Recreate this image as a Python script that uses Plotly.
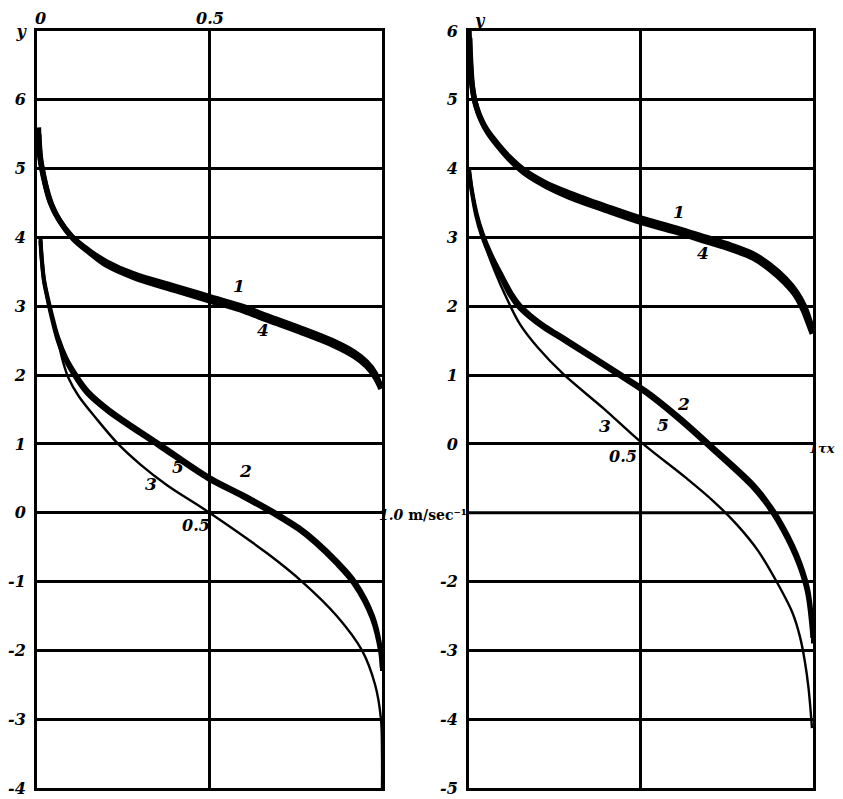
import plotly.graph_objects as go

# ---------------- data ----------------
# Left panel
L1_x = [0.004, 0.008, 0.014, 0.025, 0.038, 0.061, 0.1, 0.148, 0.2, 0.28, 0.4, 0.5, 0.6, 0.667, 0.76, 0.86, 0.92, 0.955, 0.98, 0.995]
L1_y = [5.6, 5.2, 5.0, 4.75, 4.52, 4.28, 4.02, 3.82, 3.65, 3.47, 3.29, 3.14, 2.99, 2.86, 2.69, 2.49, 2.33, 2.19, 2.03, 1.85]
L4_x = [0.005, 0.01, 0.017, 0.028, 0.042, 0.066, 0.105, 0.152, 0.2, 0.28, 0.4, 0.5, 0.6, 0.667, 0.76, 0.86, 0.92, 0.955, 0.98, 0.997]
L4_y = [5.5, 5.15, 4.95, 4.7, 4.48, 4.24, 3.98, 3.78, 3.6, 3.42, 3.23, 3.08, 2.93, 2.8, 2.63, 2.43, 2.27, 2.13, 1.97, 1.8]

L2_x = [0.01, 0.013, 0.02, 0.03, 0.042, 0.061, 0.085, 0.117, 0.15, 0.21, 0.357, 0.5, 0.6, 0.7, 0.76, 0.81, 0.87, 0.922, 0.974, 0.997, 1.0]
L2_y = [4.0, 3.75, 3.4, 3.15, 2.9, 2.55, 2.25, 1.98, 1.76, 1.5, 1.0, 0.52, 0.26, -0.02, -0.21, -0.41, -0.7, -1.0, -1.5, -2.0, -2.3]
L5_x = [0.01, 0.013, 0.02, 0.03, 0.041, 0.059, 0.082, 0.113, 0.145, 0.205, 0.352, 0.495, 0.595, 0.695, 0.755, 0.805, 0.865, 0.917, 0.97, 0.995, 0.999]
L5_y = [3.95, 3.72, 3.37, 3.12, 2.87, 2.52, 2.22, 1.95, 1.73, 1.47, 0.97, 0.49, 0.23, -0.05, -0.24, -0.44, -0.73, -1.03, -1.53, -2.03, -2.25]

L3_x = [0.01, 0.013, 0.02, 0.03, 0.042, 0.061, 0.075, 0.092, 0.12, 0.17, 0.235, 0.3, 0.377, 0.5, 0.667, 0.768, 0.869, 0.942, 0.98, 0.997, 1.0, 1.0]
L3_y = [4.0, 3.75, 3.4, 3.15, 2.9, 2.5, 2.2, 1.95, 1.7, 1.38, 1.0, 0.7, 0.4, 0.0, -0.59, -1.0, -1.5, -2.0, -2.5, -3.0, -3.5, -4.0]

# Right panel
R1_x = [0.0, 0.003, 0.008, 0.016, 0.03, 0.05, 0.08, 0.115, 0.16, 0.22, 0.29, 0.4, 0.5, 0.6, 0.69, 0.76, 0.826, 0.875, 0.92, 0.953, 0.975, 0.99, 1.0]
R1_y = [6.0, 5.6, 5.25, 5.0, 4.78, 4.58, 4.38, 4.18, 3.98, 3.8, 3.65, 3.45, 3.28, 3.14, 3.0, 2.89, 2.76, 2.6, 2.4, 2.2, 2.0, 1.8, 1.64]
R4_x = [0.002, 0.005, 0.01, 0.019, 0.034, 0.055, 0.085, 0.12, 0.165, 0.225, 0.29, 0.4, 0.5, 0.6, 0.69, 0.76, 0.826, 0.873, 0.918, 0.95, 0.971, 0.986, 0.998]
R4_y = [5.9, 5.52, 5.18, 4.94, 4.72, 4.52, 4.32, 4.12, 3.92, 3.74, 3.59, 3.39, 3.22, 3.08, 2.94, 2.83, 2.7, 2.54, 2.34, 2.15, 1.95, 1.76, 1.6]

R2_x = [0.0, 0.008, 0.022, 0.04, 0.065, 0.1, 0.125, 0.148, 0.18, 0.22, 0.29, 0.447, 0.517, 0.61, 0.7, 0.826, 0.865, 0.9, 0.953, 0.985, 0.998, 1.0]
R2_y = [4.0, 3.7, 3.35, 3.05, 2.75, 2.41, 2.18, 2.02, 1.87, 1.72, 1.5, 1.0, 0.77, 0.4, 0.0, -0.58, -0.82, -1.08, -1.6, -2.09, -2.6, -2.9]
R5_x = [0.0, 0.008, 0.021, 0.038, 0.062, 0.096, 0.12, 0.143, 0.175, 0.215, 0.285, 0.442, 0.512, 0.605, 0.695, 0.82, 0.86, 0.895, 0.948, 0.981, 0.995, 0.998]
R5_y = [3.96, 3.67, 3.32, 3.02, 2.72, 2.38, 2.15, 1.99, 1.84, 1.69, 1.47, 0.97, 0.74, 0.37, -0.03, -0.61, -0.85, -1.11, -1.63, -2.12, -2.63, -2.82]

R3_x = [0.0, 0.008, 0.022, 0.04, 0.06, 0.08, 0.1, 0.148, 0.2, 0.273, 0.39, 0.506, 0.63, 0.71, 0.78, 0.84, 0.904, 0.94, 0.962, 0.976, 0.987, 0.997]
R3_y = [4.0, 3.7, 3.35, 3.0, 2.7, 2.45, 2.22, 1.74, 1.4, 1.02, 0.52, 0.0, -0.49, -0.83, -1.18, -1.55, -2.09, -2.45, -2.8, -3.15, -3.55, -4.13]

# curve labels: (text, x, y)
L_labels = [("1", 0.585, 3.3), ("4", 0.655, 2.65), ("3", 0.33, 0.42), ("5", 0.41, 0.66), ("2", 0.605, 0.6)]
R_labels = [("1", 0.61, 3.37), ("4", 0.68, 2.78), ("3", 0.395, 0.26), ("5", 0.565, 0.28), ("2", 0.625, 0.58)]

L_yticks = [-4, -3, -2, -1, 0, 1, 2, 3, 4, 5, 6, 7]
L_yticktext = ["-4", "-3", "-2", "-1", "0", "1", "2", "3", "4", "5", "6", "y"]
R_yticks = [-5, -4, -3, -2, 0, 1, 2, 3, 4, 5, 6]
R_yticktext = ["-5", "-4", "-3", "-2", "0", "1", "2", "3", "4", "5", "6"]

# ---------------- figure ----------------
fig = go.Figure()
BLACK = "black"

def add(x, y, w, xa, ya):
    fig.add_trace(go.Scatter(x=x, y=y, mode="lines",
                             line=dict(color=BLACK, width=w, shape="spline", smoothing=1.0),
                             xaxis=xa, yaxis=ya, showlegend=False, hoverinfo="skip"))

add(L1_x, L1_y, 5.5, "x", "y")
add(L4_x, L4_y, 5.5, "x", "y")
add(L2_x, L2_y, 4.0, "x", "y")
add(L5_x, L5_y, 4.0, "x", "y")
add(L3_x, L3_y, 2.4, "x", "y")

add(R1_x, R1_y, 5.5, "x2", "y2")
add(R4_x, R4_y, 5.5, "x2", "y2")
add(R2_x, R2_y, 4.0, "x2", "y2")
add(R5_x, R5_y, 4.0, "x2", "y2")
add(R3_x, R3_y, 2.4, "x2", "y2")

lab_font = dict(family="DejaVu Serif", size=17, color=BLACK, weight="bold", style="italic")
tick_font = dict(family="DejaVu Serif", size=16, color=BLACK, weight="bold", style="italic")

xcommon = dict(range=[0, 1], tickvals=[0.5], showticklabels=False, showgrid=True, gridcolor=BLACK, gridwidth=3,
               zeroline=False, showline=True, linecolor=BLACK, linewidth=3, mirror=True, ticks="",
               automargin=False)
ycommon = dict(showgrid=True, gridcolor=BLACK, gridwidth=3, zeroline=False, showline=True, linecolor=BLACK,
               linewidth=3, mirror=True, ticks="", tickfont=tick_font, ticklabelstandoff=5, automargin=False)

# the page body has an 8px margin, so the figure is sized to fit the 843x799 window
fig.update_layout(
    width=835, height=791,
    margin=dict(l=29, r=30, t=23, b=11, autoexpand=False),
    paper_bgcolor="white", plot_bgcolor="white",
    xaxis=dict(domain=[0, 0.4446], anchor="y", **xcommon),
    yaxis=dict(domain=[0, 1], anchor="x", range=[-4, 7], tickvals=L_yticks, ticktext=L_yticktext, **ycommon),
    xaxis2=dict(domain=[0.5567, 1], anchor="y2", **xcommon),
    yaxis2=dict(domain=[0, 1], anchor="x2", range=[-5, 6], tickvals=R_yticks, ticktext=R_yticktext, **ycommon),
)

# right panel: horizontal rule at -1 (no tick label there, the unit text sits in its place)
fig.add_shape(type="line", xref="x2", yref="y2", x0=0, x1=1, y0=-1, y1=-1, line=dict(color=BLACK, width=3),
              layer="below")

ann = []
for t, x, y in L_labels:
    ann.append(dict(text=t, x=x, y=y, xref="x", yref="y", showarrow=False, font=lab_font))
for t, x, y in R_labels:
    ann.append(dict(text=t, x=x, y=y, xref="x2", yref="y2", showarrow=False, font=lab_font))

# axis annotations
ann += [
    dict(text="0", x=0.01, y=7, xref="x", yref="y", yanchor="bottom", yshift=1, showarrow=False, font=tick_font),
    dict(text="0.5", x=0.5, y=7, xref="x", yref="y", yanchor="bottom", yshift=1, showarrow=False, font=tick_font),
    dict(text="0.5", x=0.5, y=0, xref="x", yref="y", xanchor="right", yanchor="top", yshift=-1, xshift=2,
         showarrow=False, font=tick_font),
    dict(text="<b><i>1.0</i> m/sec⁻¹</b>", x=1.0, y=0, xref="x", yref="y", xanchor="left",
         yanchor="middle", xshift=-5, yshift=-2, showarrow=False,
         font=dict(family="DejaVu Serif", size=14, color=BLACK)),
    dict(text="y", x=0.0, y=6, xref="x2", yref="y2", xanchor="left", yanchor="bottom", xshift=3, yshift=-1,
         showarrow=False, font=tick_font),
    dict(text="0.5", x=0.5, y=0, xref="x2", yref="y2", xanchor="right", yanchor="top", yshift=-1, xshift=-2,
         showarrow=False, font=tick_font),
    dict(text="1τx", x=1.0, y=0, xref="x2", yref="y2", xanchor="left", yanchor="middle", xshift=-6, yshift=-5,
         showarrow=False, font=dict(family="DejaVu Serif", size=13, color=BLACK, weight="bold", style="italic")),
]
fig.update_layout(annotations=ann)

fig.write_html("out.html")
